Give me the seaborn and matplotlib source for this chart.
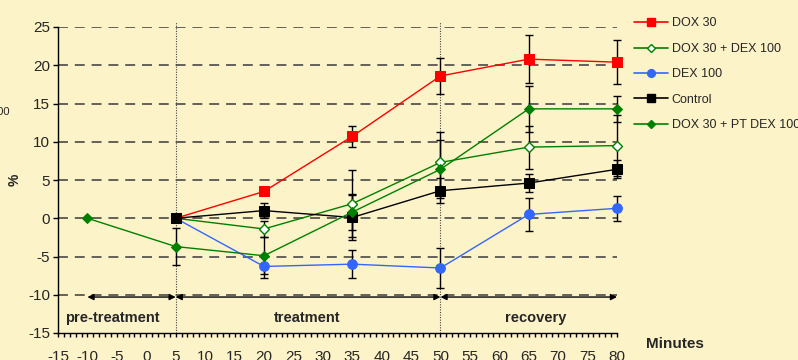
import numpy as np
import pandas as pd
import matplotlib
matplotlib.use("Agg")
import matplotlib.pyplot as plt
from matplotlib.lines import Line2D
from matplotlib.ticker import MultipleLocator
import seaborn as sns

# ---- data -------------------------------------------------------------
minutes = [-10, 5, 20, 35, 50, 65, 80]
nan = np.nan

dox30 = [nan, 0.0, 3.5, 10.7, 18.6, 20.8, 20.4]
dox30_err = [nan, 0.0, 0.0, 1.4, 2.3, 3.1, 2.9]

dox30_dex100 = [nan, 0.0, -1.4, 1.9, 7.3, 9.3, 9.5]
dox30_dex100_err = [nan, 0.0, 1.1, 4.4, 4.0, 2.8, 4.0]

dex100 = [nan, 0.0, -6.3, -6.0, -6.5, 0.5, 1.3]
dex100_err = [nan, 0.0, 1.5, 1.8, 2.6, 2.2, 1.6]

control = [nan, 0.0, 1.0, 0.1, 3.6, 4.6, 6.4]
control_err = [nan, 0.0, 1.0, 3.0, 1.6, 1.2, 1.2]

dox30_ptdex100 = [0.0, -3.7, -4.9, 0.8, 6.4, 14.3, 14.3]
dox30_ptdex100_err = [0.0, 2.4, 2.4, 2.4, 3.8, 3.0, 1.7]

series_labels = ["DOX 30", "DOX 30 + DEX 100", "DEX 100", "Control",
                 "DOX 30 + PT DEX 100"]
phase_labels = ["pre-treatment", "treatment", "recovery"]
phase_bounds = [-10, 5, 50, 80]

# ---- styling ----------------------------------------------------------
bg = "#FDF3C8"
sns.set_style("ticks")
plt.rcParams["font.family"] = ["Liberation Sans", "DejaVu Sans"]
plt.rcParams["axes.unicode_minus"] = False

fig = plt.figure(figsize=(7.98, 3.6), dpi=100, facecolor=bg)
ax = fig.add_axes([58 / 798, 27 / 360, 559 / 798, 306 / 360])
ax.set_facecolor(bg)

series = [
    (dox30, dox30_err, dict(color="#FF0000", marker="s", markersize=6.5,
                            markerfacecolor="#FF0000", markeredgecolor="#FF0000")),
    (dox30_dex100, dox30_dex100_err, dict(color="#008000", marker="D", markersize=5.5,
                                          markerfacecolor="white", markeredgecolor="#008000",
                                          markeredgewidth=1.0)),
    (dex100, dex100_err, dict(color="#3366FF", marker="o", markersize=7,
                              markerfacecolor="#3366FF", markeredgecolor="#3366FF")),
    (control, control_err, dict(color="black", marker="s", markersize=6.5,
                                markerfacecolor="black", markeredgecolor="black")),
    (dox30_ptdex100, dox30_ptdex100_err, dict(color="#008000", marker="D", markersize=5.5,
                                              markerfacecolor="#008000",
                                              markeredgecolor="#008000")),
]

# dashed horizontal guides
for yv in range(-10, 30, 5):
    ax.axhline(yv, color="#3a3a3a", lw=1.1, ls=(0, (6.5, 4.5)), zorder=1)

# phase separators
for xv in (5, 50):
    ax.plot([xv, xv], [-15, 25.6], color="#444444", lw=0.8, ls=(0, (1, 1.3)),
            clip_on=False, zorder=1)

handles = []
for (vals, errs, style), label in zip(series, series_labels):
    df = pd.DataFrame({"Minutes": minutes, "pct": vals, "err": errs}).dropna()
    eb = ax.errorbar(df["Minutes"], df["pct"], yerr=df["err"], fmt="none",
                     ecolor="black", elinewidth=1.0, capsize=2.6, capthick=1.0,
                     zorder=2)
    for art in eb.lines[1] + eb.lines[2]:
        art.set_clip_on(False)
    sns.lineplot(data=df, x="Minutes", y="pct", ax=ax, lw=1.0, errorbar=None,
                 legend=False, zorder=3, clip_on=False, **style)
    handles.append(Line2D([], [], lw=1.2, label=label, **style))

# phase arrows
arrow_y = -10.3
for x0, x1 in zip(phase_bounds[:-1], phase_bounds[1:]):
    ax.annotate("", xy=(x1, arrow_y), xytext=(x0, arrow_y),
                arrowprops=dict(arrowstyle="<|-|>", color="black", lw=1.0,
                                mutation_scale=9, shrinkA=0, shrinkB=0),
                zorder=4)

for txt, xc in zip(phase_labels, [-5.8, 27.4, 66.2]):
    ax.text(xc, -13.0, txt, ha="center", va="center", fontsize=10.5,
            fontweight="bold")

ax.set_xlim(-15, 80)
ax.set_ylim(-15, 25)
ax.xaxis.set_major_locator(MultipleLocator(5))
ax.xaxis.set_minor_locator(MultipleLocator(1))
ax.yaxis.set_major_locator(MultipleLocator(5))
ax.tick_params(axis="x", which="both", direction="out", length=3, width=1,
               pad=9.5, labelsize=11, color="black")
ax.tick_params(axis="y", which="major", direction="out", length=3.8, width=1,
               pad=2, labelsize=11, color="black")
ax.set_xlabel("")
ax.set_ylabel("")
for side in ("top", "right"):
    ax.spines[side].set_visible(False)
for side in ("left", "bottom"):
    ax.spines[side].set_color("black")
    ax.spines[side].set_linewidth(1.0)

fig.text(675 / 798, 1 - 344 / 360, "Minutes", ha="center", va="center",
         fontsize=11, fontweight="bold")
fig.text(15 / 798, 1 - 180 / 360, "%", ha="center", va="center",
         fontsize=10, fontweight="bold", rotation=90)
fig.text(9.5 / 798, 1 - 112 / 360, "100", ha="right", va="center", fontsize=8)

fig.legend(handles=handles, loc="upper left",
           bbox_to_anchor=(634 / 798, 1 - 17.5 / 360), frameon=False,
           fontsize=9, handlelength=2.7, handletextpad=0.3, markerscale=0.8,
           labelspacing=1.07, borderpad=0, borderaxespad=0)

fig.savefig("out.png", dpi=100, facecolor=bg)
